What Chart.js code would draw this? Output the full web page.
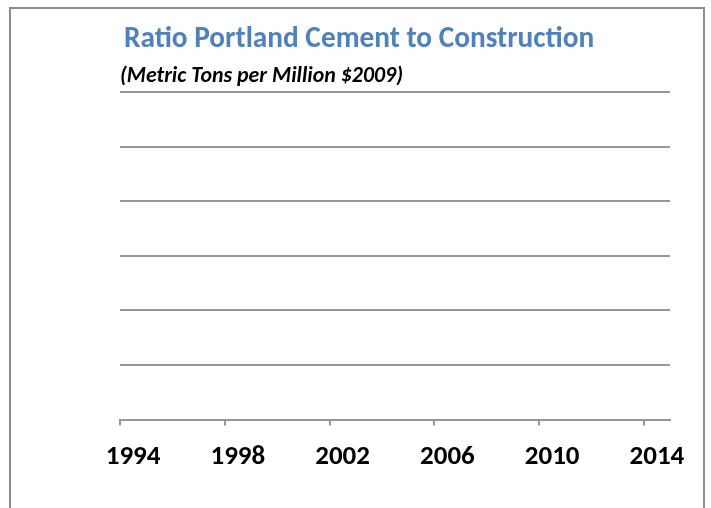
<!DOCTYPE html>
<html>
<head>
<meta charset="utf-8">
<script src="https://cdn.jsdelivr.net/npm/chart.js@4"></script>
<style>
  html, body { margin: 0; padding: 0; background: #fff; overflow: hidden; }
  #wrap { position: relative; width: 711px; height: 508px; }
  #frame { position: absolute; left: 9px; top: 7px; width: 692px; height: 600px; border: 2px solid #8c8c8c; }
  #chart { position: absolute; left: 0; top: 0; }
</style>
</head>
<body>
<div id="wrap">
  <div id="frame"></div>
  <canvas id="chart" width="711" height="508"></canvas>
</div>
<script>
// years on the category axis
const years = ['1994', '1995', '1996', '1997', '1998', '1999', '2000', '2001', '2002', '2003',
  '2004', '2005', '2006', '2007', '2008', '2009', '2010', '2011', '2012', '2013', '2014'];
// no data is plotted in the reference picture
const ratioValues = [null, null, null, null, null, null, null, null, null, null,
  null, null, null, null, null, null, null, null, null, null, null];
const yTicks = [0, 1, 2, 3, 4, 5, 6];
const labelEvery = 4;

const gridGray = '#979797';
const fontFamily = 'Carlito, Calibri, Lato, sans-serif';

// nudge the title block a little to the right, like the original
const titleShift = {
  id: 'titleShift',
  afterLayout(chart) {
    if (chart.titleBlock) chart.titleBlock.left += 4;
    if (chart.$subtitle) chart.$subtitle.left += 1;
  }
};

new Chart(document.getElementById('chart'), {
  type: 'line',
  data: {
    labels: years,
    datasets: [{
      label: 'Ratio',
      data: ratioValues,
      borderColor: '#4F81BD',
      borderWidth: 2,
      pointRadius: 0
    }]
  },
  options: {
    responsive: false,
    animation: false,
    layout: { padding: { left: 120, right: 41, top: 0, bottom: 20 } },
    plugins: {
      legend: { display: false },
      tooltip: { enabled: false },
      title: {
        display: true,
        text: 'Ratio Portland Cement to Construction',
        align: 'start',
        color: '#4F81BD',
        font: { family: fontFamily, size: 29.3, weight: 'bold' },
        padding: { top: 22.4, bottom: 0 }
      },
      subtitle: {
        display: true,
        text: '(Metric Tons per Million $2009)',
        align: 'start',
        color: '#000',
        font: { family: fontFamily, size: 21.9, weight: 'bold', style: 'italic' },
        padding: { top: 6, bottom: 2.1 }
      }
    },
    scales: {
      x: {
        type: 'category',
        offset: true,
        grid: {
          offset: true,
          drawOnChartArea: false,
          drawTicks: true,
          tickLength: 6,
          lineWidth: 2,
          tickColor: (ctx) => (ctx.index % labelEvery === 0 ? gridGray : 'rgba(0,0,0,0)')
        },
        border: { display: true, color: gridGray, width: 2 },
        ticks: {
          autoSkip: false,
          maxRotation: 0,
          padding: 15,
          color: '#000',
          font: { family: fontFamily, size: 27, weight: 'bold' },
          callback: function (value, index) {
            return index % labelEvery === 0 ? this.getLabelForValue(value) : '';
          }
        }
      },
      y: {
        min: yTicks[0],
        max: yTicks[yTicks.length - 1],
        afterFit: (scale) => { scale.width = 0; },
        ticks: { display: false, stepSize: yTicks[1] - yTicks[0] },
        grid: { color: gridGray, lineWidth: 2, drawTicks: false },
        border: { display: false }
      }
    }
  },
  plugins: [titleShift]
});
</script>
</body>
</html>
